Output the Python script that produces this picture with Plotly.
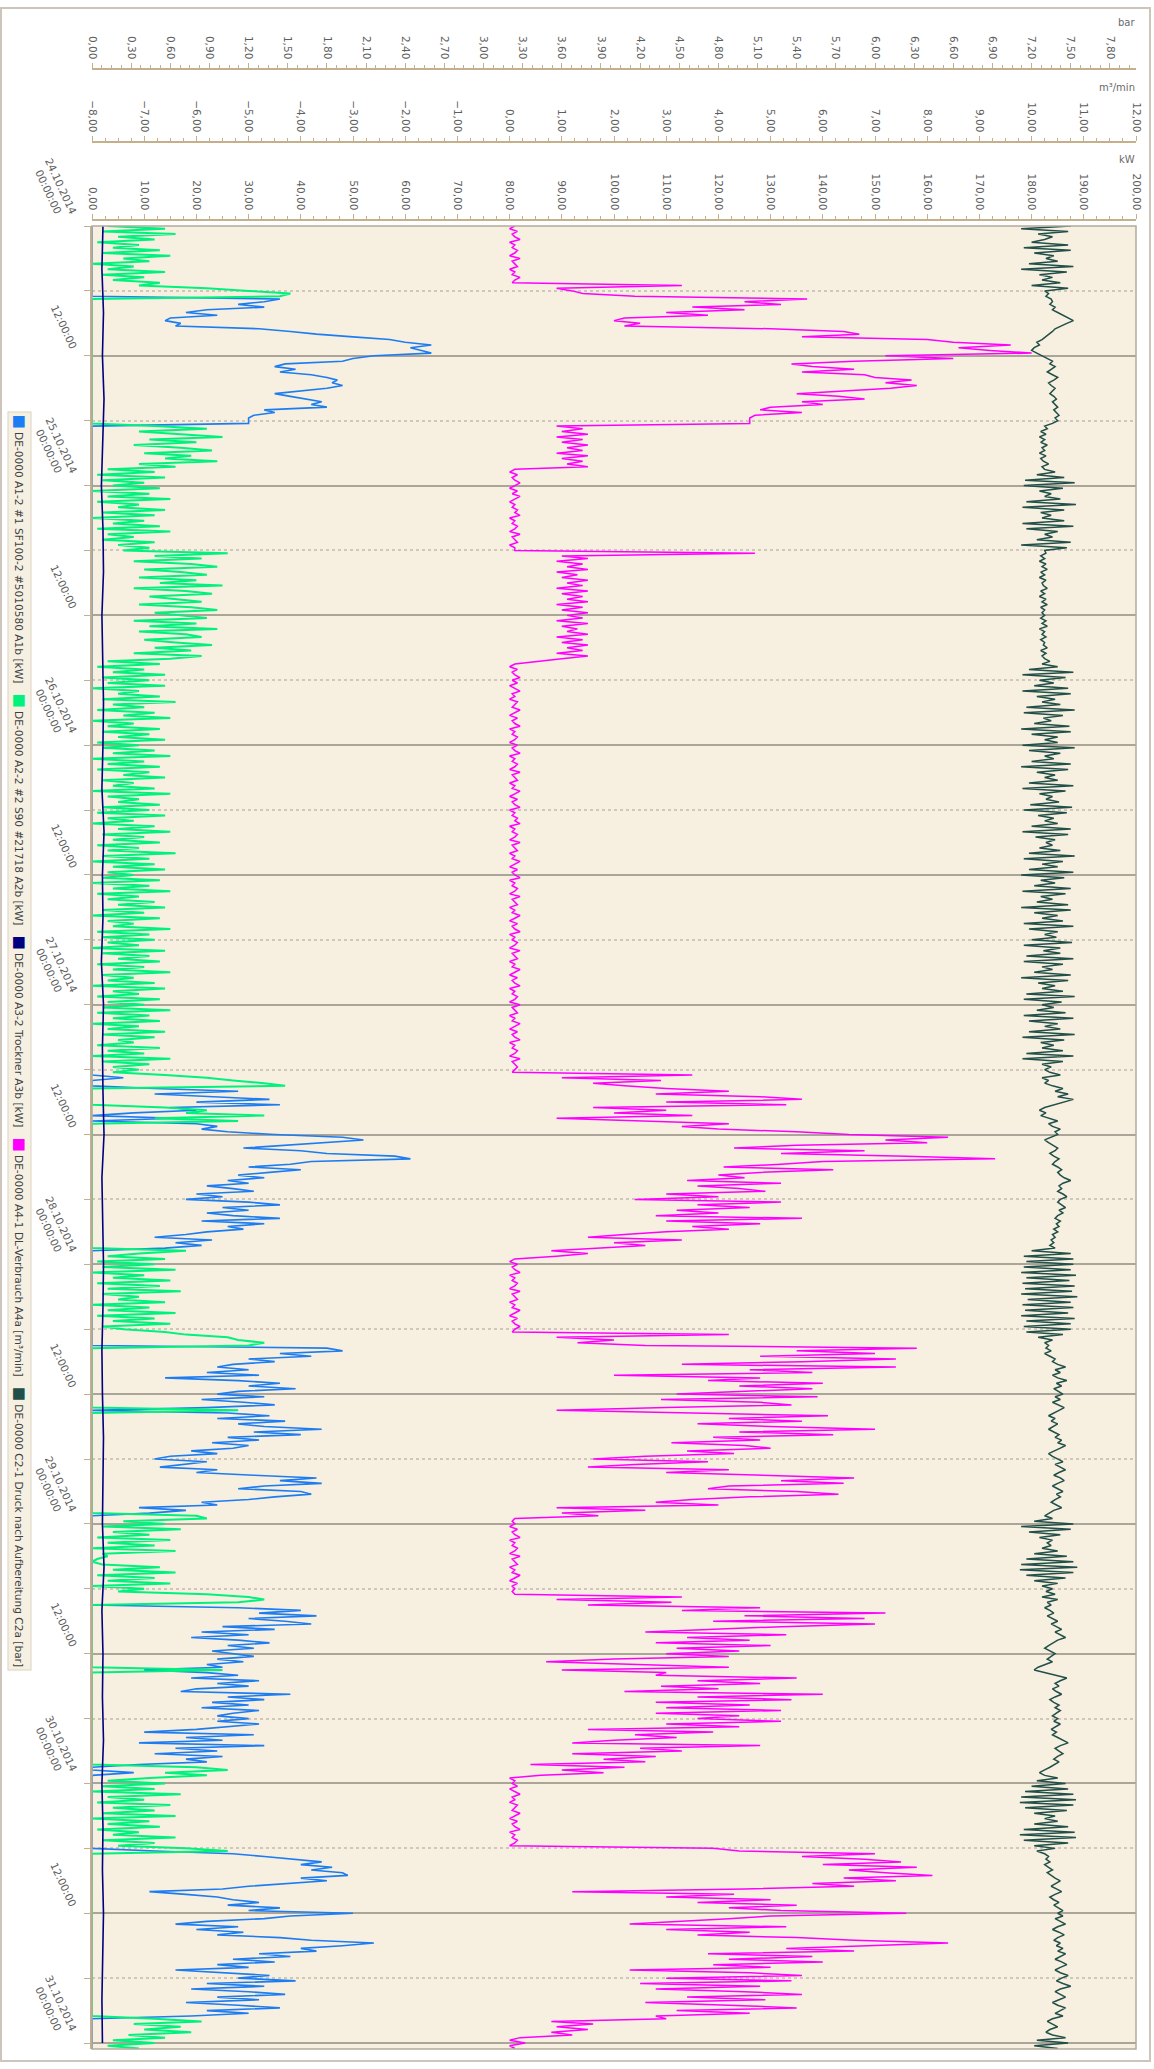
import numpy as np
import pandas as pd
import plotly.graph_objects as go

# ---------------- data (15-minute samples) ----------------
START = "2014-10-24 00:00:00"
STEP_HOURS = 0.25
END_HOURS = 168.55

# DE-0000 A2-2 #2 S90 #21718 A2b [kW]  (green)
green_kw = (
    [3,14,2,16,5,12,1,9,4,13,2,15,6,11,0,8,3,14,2,10,4,13,9,22]
    + [30,38,36,0,0,0,0,0,0,0,0,0,0,0,0,0,0,0,0,0,0,0,0,0]
    + [0,0,0,0,0,0,0,0,0,0,0,0,0,0,0,0,0,0,0,0,0,0,0,0]
    + [0,0,12,22,9,18,25,11,20,8,17,23,10,19,14,24,9,16,3,12,1,14,2,10]
    + [4,13,0,11,3,15,1,9,5,14,2,12,0,10,4,13,1,15,3,8,2,12,5,11]
    + [6,26,12,21,8,19,24,10,17,22,9,20,13,25,8,18,23,11,16,21,9,19,24,12]
    + [17,22,8,20,11,24,9,18,21,10,16,23,12,19,8,21,15,3,13,1,10,4,14,2]
    + [11,3,14,0,9,5,13,2,16,4,10,1,12,6,15,0,8,3,13,2,11,5,14,1]
    + [9,2,12,4,15,0,10,3,13,1,11,6,14,2,8,4,12,0,15,3,9,5,13,2]
    + [11,1,14,3,8,0,12,5,15,2,10,4,13,1,9,3,16,2,11,0,12,4,14,3]
    + [8,2,13,0,11,4,15,1,9,3,12,5,14,2,10,0,13,3,8,4,15,1,11,2]
    + [12,3,9,0,14,2,11,5,13,1,10,4,15,2,8,3,12,0,14,4,9,1,13,3]
    + [10,2,15,1,11,4,13,0,9,3,14,2,12,5,8,1,13,3,10,0,15,2,11,4]
    + [9,4,14,22,27,33,37,0,0,0,0,0,0,0,14,22,18,33,12,28,0,0,0,0]
    + [0,0,0,0,0,0,0,0,0,0,0,0,0,0,0,0,0,0,0,0,0,0,0,0]
    + [0,0,0,0,0,0,0,0,0,0,0,0,0,0,0,0,0,0,0,18,9,3,14,1]
    + [12,2,16,0,10,4,15,1,13,3,17,2,9,5,14,0,11,3,16,1,12,4,15,2]
    + [6,14,18,26,28,33,30,0,0,0,0,0,0,0,0,0,0,0,0,0,0,0,0,0]
    + [0,0,0,0,0,0,28,0,0,0,0,0,0,0,0,0,0,0,0,0,0,0,0,0]
    + [0,0,0,0,0,0,0,0,0,0,0,0,0,0,0,0,0,0,0,0,0,20,22,6]
    + [14,2,17,4,11,1,15,3,12,0,16,2,3,1,0,2,13,4,16,1,12,3,15,0]
    + [10,5,22,30,33,28,0,0,0,0,0,0,0,0,0,0,0,0,0,0,0,0,0,0]
    + [0,0,0,0,0,0,25,0,0,0,0,0,0,0,0,0,0,0,0,0,0,0,0,0]
    + [0,0,0,0,0,0,0,0,0,0,0,0,0,0,0,0,0,0,20,26,14,22,11,3]
    + [14,2,12,0,17,3,10,1,15,4,12,2,16,0,11,3,13,1,9,4,16,2,12,5]
    + [18,26,0,0,0,0,0,0,0,0,0,0,0,0,0,0,0,0,0,0,0,0,0,0]
    + [0,0,0,0,0,0,0,0,0,0,0,0,0,0,0,0,0,0,0,0,0,0,0,0]
    + [0,0,0,0,0,0,0,0,0,0,0,0,0,0,0,12,21,8,17,10,19,7,14,4]
    + [12,3,9]
)

# DE-0000 A1-2 #1 SF100-2 #5010580 A1b [kW]  (blue)
blue_kw = (
    [0,0,0,0,0,0,0,0,0,0,0,0,0,0,0,0,0,0,0,0,0,0,0,0]
    + [0,0,0,36,33,28,33,22,18,24,15,14,17,16,32,38,43,50,57,60,65,61,63,65]
    + [54,50,48,37,35,39,36,42,45,47,46,48,45,40,35,38,41,44,42,45,33,35,31,30]
    + [30,30,0,0,0,0,0,0,0,0,0,0,0,0,0,0,0,0,0,0,0,0,0,0]
    + [0,0,0,0,0,0,0,0,0,0,0,0,0,0,0,0,0,0,0,0,0,0,0,0]
    + [0,0,0,0,0,0,0,0,0,0,0,0,0,0,0,0,0,0,0,0,0,0,0,0]
    + [0,0,0,0,0,0,0,0,0,0,0,0,0,0,0,0,0,0,0,0,0,0,0,0]
    + [0,0,0,0,0,0,0,0,0,0,0,0,0,0,0,0,0,0,0,0,0,0,0,0]
    + [0,0,0,0,0,0,0,0,0,0,0,0,0,0,0,0,0,0,0,0,0,0,0,0]
    + [0,0,0,0,0,0,0,0,0,0,0,0,0,0,0,0,0,0,0,0,0,0,0,0]
    + [0,0,0,0,0,0,0,0,0,0,0,0,0,0,0,0,0,0,0,0,0,0,0,0]
    + [0,0,0,0,0,0,0,0,0,0,0,0,0,0,0,0,0,0,0,0,0,0,0,0]
    + [0,0,0,0,0,0,0,0,0,0,0,0,0,0,0,0,0,0,0,0,0,0,0,0]
    + [0,0,0,6,0,0,0,12,28,12,22,34,20,36,15,20,8,0,16,0,20,24,21,26]
    + [35,48,52,44,38,29,40,45,58,61,42,38,30,40,34,28,33,26,30,22,27,31,20,25]
    + [18,30,36,25,30,22,27,36,21,33,26,29,22,18,12,23,16,21,14,0,0,0,0,0]
    + [0,0,0,0,0,0,0,0,0,0,0,0,0,0,0,0,0,0,0,0,0,0,0,0]
    + [0,0,0,0,0,0,0,45,48,36,42,30,35,27,24,30,22,32,14,28,36,30,39,28]
    + [24,33,21,29,35,22,0,26,34,24,37,28,33,44,31,40,26,32,23,30,27,19,24,15]
    + [12,22,18,13,24,20,31,43,36,44,33,28,40,42,35,30,21,24,9,18,11,0,0,0]
    + [0,0,0,0,0,0,0,0,0,0,0,0,0,0,0,0,0,0,0,0,0,0,0,0]
    + [0,0,0,0,0,0,0,28,40,32,43,30,37,42,25,35,21,30,19,28,34,26,31,23]
    + [27,31,24,29,22,25,10,22,28,19,32,24,30,20,17,38,26,33,23,30,21,32,27,24]
    + [30,24,32,26,20,10,31,18,25,9,33,16,24,12,25,18,22,9,0,0,8,0,0,0]
    + [0,0,0,0,0,0,0,0,0,0,0,0,0,0,0,0,0,0,0,0,0,0,0,0]
    + [0,12,27,33,38,44,40,46,42,48,49,40,45,38,30,25,11,18,24,27,32,26,36,30]
    + [50,38,33,22,16,28,20,29,24,36,42,54,48,40,43,32,38,27,35,24,30,16,25,34]
    + [28,39,22,33,19,30,37,24,32,18,28,36,22,30,19,0,0,0,0,0,0,0,0,0]
    + [0,0,0]
)

# DE-0000 A4-1 DL-Verbrauch A4a [m³/min]  (magenta)
magenta_m3min = (
    [0.1,0.0,0.15,0.05,0.1,0.2,0.0,0.1,0.05,0.15,0.1,0.0,0.2,0.05,0.1,0.15,0.0,0.1,0.05,0.2,0.1,0.05,3.3,0.9]
    + [1.2,1.4,2.4,5.7,4.5,5.2,3.5,4.5,3.0,3.8,2.2,2.0,2.5,2.2,5.0,6.4,6.7,5.6,8.0,8.5,9.6,8.6,9.2,10.0]
    + [7.2,8.5,6.6,5.4,5.8,6.6,5.6,6.8,7.0,7.7,7.2,7.8,7.3,6.4,5.5,6.3,6.8,5.6,6.0,5.0,4.8,5.6,4.7,4.6]
    + [4.6,4.6,0.9,1.4,1.0,1.5,0.9,1.4,1.0,1.5,1.1,1.4,0.9,1.5,1.0,1.4,1.1,1.5,0.1,0.0,0.15,0.05,0.1,0.2]
    + [0.1,0.0,0.15,0.05,0.2,0.1,0.0,0.1,0.05,0.15,0.1,0.2,0.0,0.1,0.05,0.15,0.1,0.0,0.2,0.05,0.1,0.15,0.0,0.1]
    + [0.1,4.7,1.0,1.5,0.9,1.4,1.1,1.5,0.9,1.3,1.0,1.5,1.1,1.4,0.9,1.5,1.0,1.4,1.1,1.5,0.9,1.4,1.0,1.5]
    + [1.1,1.4,0.9,1.5,1.0,1.3,1.1,1.5,0.9,1.4,1.0,1.5,1.1,1.4,0.9,1.5,1.0,0.6,0.1,0.0,0.15,0.05,0.1,0.2]
    + [0.05,0.15,0.0,0.1,0.2,0.05,0.1,0.0,0.15,0.1,0.05,0.2,0.1,0.0,0.15,0.05,0.1,0.2,0.0,0.1,0.05,0.15,0.1,0.0]
    + [0.15,0.05,0.1,0.2,0.0,0.1,0.05,0.15,0.1,0.0,0.2,0.05,0.1,0.15,0.0,0.1,0.05,0.2,0.1,0.0,0.15,0.05,0.1,0.2]
    + [0.0,0.1,0.05,0.15,0.1,0.2,0.0,0.1,0.05,0.15,0.1,0.0,0.2,0.05,0.1,0.15,0.0,0.1,0.05,0.2,0.1,0.0,0.15,0.05]
    + [0.1,0.2,0.0,0.1,0.05,0.15,0.1,0.0,0.2,0.05,0.1,0.15,0.0,0.1,0.05,0.2,0.1,0.0,0.15,0.05,0.1,0.2,0.0,0.1]
    + [0.05,0.15,0.1,0.0,0.2,0.05,0.1,0.15,0.0,0.1,0.05,0.2,0.1,0.0,0.15,0.05,0.1,0.2,0.0,0.1,0.05,0.15,0.1,0.0]
    + [0.2,0.05,0.1,0.15,0.0,0.1,0.05,0.2,0.1,0.0,0.15,0.05,0.1,0.2,0.0,0.1,0.05,0.15,0.1,0.0,0.2,0.05,0.1,0.15]
    + [0.1,0.05,3.5,1.0,2.9,1.6,2.2,3.0,4.2,2.8,4.8,5.6,3.0,5.3,1.6,3.0,2.0,3.5,0.9,2.4,4.2,3.3,4.0,5.5]
    + [6.5,8.4,7.2,8.0,5.5,4.3,6.8,5.2,7.6,9.3,6.0,5.2,4.1,6.2,4.8,4.0,4.5,3.4,5.2,3.6,4.4,4.9,3.0,4.0]
    + [2.4,5.2,3.6,4.6,3.2,4.0,2.8,5.6,3.0,4.8,3.5,4.2,3.0,2.2,1.5,3.3,2.0,2.6,1.6,0.8,1.5,0.9,0.1,0.0]
    + [0.15,0.05,0.1,0.2,0.0,0.1,0.05,0.15,0.1,0.0,0.2,0.05,0.1,0.15,0.0,0.1,0.05,0.2,0.1,0.0,0.15,0.05,0.1,0.2]
    + [0.1,0.05,4.2,0.9,2.0,1.3,2.6,7.8,5.5,7.0,4.8,7.4,5.6,3.3,7.4,4.6,5.8,2.0,4.8,3.8,6.0,4.4,5.8,4.6]
    + [3.2,5.9,2.9,4.8,5.4,3.0,0.9,3.5,6.1,4.2,5.6,3.6,5.0,7.0,4.4,6.2,3.9,4.8,3.1,4.5,5.0,3.4,4.3,2.6]
    + [1.6,3.8,2.4,1.5,4.2,3.0,5.0,6.6,5.2,6.4,4.2,3.8,5.5,6.3,4.6,3.5,2.8,4.0,0.9,2.6,1.0,1.7,0.1,0.05]
    + [0.1,0.0,0.15,0.05,0.1,0.2,0.0,0.1,0.05,0.15,0.1,0.0,0.2,0.05,0.1,0.15,0.0,0.1,0.05,0.2,0.1,0.0,0.15,0.05]
    + [0.1,0.05,0.1,3.3,0.9,3.1,1.5,4.8,3.3,7.2,4.5,6.8,3.9,7.0,5.2,4.0,2.6,5.3,3.4,4.6,2.8,5.0,3.2,4.4]
    + [3.0,4.2,2.0,0.7,2.4,4.2,1.0,3.0,2.8,5.5,3.6,4.8,2.9,4.0,2.2,6.0,3.6,5.4,2.8,4.6,3.0,5.2,2.8,4.4]
    + [3.6,5.2,3.0,4.4,1.5,3.9,2.4,3.2,2.0,1.2,4.8,2.5,3.3,1.2,2.8,1.8,2.6,0.4,2.2,1.0,1.8,0.6,0.0,0.1]
    + [0.05,0.15,0.0,0.1,0.2,0.05,0.1,0.0,0.15,0.1,0.05,0.2,0.1,0.0,0.15,0.05,0.1,0.2,0.0,0.1,0.05,0.15,0.1,0.0]
    + [3.9,4.4,7.0,5.6,6.8,7.5,6.0,7.8,6.5,7.2,8.1,6.4,7.4,5.8,6.6,4.5,1.2,4.3,3.0,5.0,3.6,5.5,4.2,5.2]
    + [7.6,5.0,4.2,3.2,2.3,5.3,3.0,4.6,3.6,5.5,6.6,8.4,7.0,5.3,6.6,3.8,5.8,4.2,6.0,3.9,5.0,2.3,4.6,5.6]
    + [3.0,5.4,2.5,4.8,2.8,4.5,5.6,3.4,4.9,2.6,4.2,5.5,3.2,4.6,2.8,3.0,0.8,1.6,0.9,1.5,0.8,1.2,0.2,0.0]
    + [0.3,0.0,0.1]
)

# DE-0000 C2-1 Druck nach Aufbereitung C2a [bar]  (dark teal)
teal_bar = (
    [7.50,7.12,7.48,7.25,7.36,7.30,7.20,7.48,7.14,7.50,7.22,7.37,7.31,7.40,7.18,7.52,7.12,7.47,7.26,7.36,7.28,7.42,7.20,7.48]
    + [7.30,7.33,7.31,7.35,7.36,7.34,7.38,7.36,7.40,7.44,7.48,7.52,7.47,7.42,7.38,7.36,7.33,7.31,7.28,7.24,7.26,7.22,7.20,7.24]
    + [7.28,7.33,7.36,7.34,7.38,7.35,7.32,7.36,7.40,7.37,7.33,7.35,7.38,7.36,7.34,7.37,7.39,7.36,7.38,7.40,7.37,7.39,7.41,7.38]
    + [7.40,7.36,7.30,7.32,7.27,7.31,7.26,7.30,7.27,7.32,7.28,7.30,7.26,7.31,7.27,7.29,7.33,7.28,7.30,7.38,7.24,7.45,7.15,7.53]
    + [7.14,7.44,7.26,7.35,7.30,7.42,7.16,7.54,7.13,7.45,7.27,7.35,7.28,7.45,7.13,7.52,7.16,7.40,7.30,7.36,7.24,7.50,7.12,7.47]
    + [7.30,7.31,7.27,7.30,7.26,7.31,7.28,7.32,7.27,7.30,7.26,7.31,7.28,7.29,7.32,7.27,7.30,7.26,7.31,7.28,7.32,7.27,7.30,7.28]
    + [7.30,7.27,7.31,7.28,7.32,7.26,7.30,7.28,7.31,7.27,7.30,7.29,7.32,7.27,7.31,7.28,7.30,7.34,7.28,7.40,7.18,7.52,7.13,7.46]
    + [7.26,7.37,7.22,7.48,7.13,7.50,7.24,7.38,7.28,7.42,7.16,7.53,7.14,7.44,7.29,7.35,7.22,7.49,7.12,7.50,7.20,7.40,7.30,7.40]
    + [7.13,7.53,7.18,7.42,7.30,7.37,7.20,7.50,7.12,7.48,7.24,7.38,7.30,7.40,7.18,7.52,7.13,7.46,7.26,7.36,7.31,7.41,7.19,7.51]
    + [7.14,7.47,7.25,7.37,7.30,7.40,7.20,7.50,7.13,7.48,7.23,7.38,7.31,7.36,7.26,7.42,7.18,7.53,7.14,7.44,7.28,7.40,7.18,7.52]
    + [7.12,7.45,7.27,7.38,7.22,7.50,7.13,7.46,7.27,7.36,7.24,7.48,7.12,7.50,7.22,7.40,7.28,7.44,7.14,7.52,7.18,7.40,7.30,7.39]
    + [7.20,7.51,7.14,7.42,7.29,7.42,7.16,7.52,7.14,7.44,7.28,7.36,7.22,7.50,7.12,7.48,7.25,7.38,7.28,7.44,7.16,7.53,7.14,7.43]
    + [7.28,7.37,7.24,7.46,7.14,7.52,7.18,7.40,7.30,7.42,7.18,7.53,7.13,7.45,7.27,7.37,7.28,7.44,7.16,7.52,7.13,7.44,7.28,7.35]
    + [7.30,7.34,7.42,7.28,7.33,7.30,7.36,7.44,7.38,7.48,7.40,7.52,7.44,7.36,7.30,7.26,7.31,7.27,7.34,7.40,7.33,7.36,7.42,7.38]
    + [7.40,7.35,7.30,7.33,7.36,7.40,7.38,7.34,7.37,7.41,7.38,7.36,7.40,7.43,7.40,7.42,7.45,7.50,7.44,7.41,7.43,7.40,7.44,7.47]
    + [7.42,7.40,7.43,7.46,7.41,7.44,7.40,7.38,7.42,7.39,7.41,7.37,7.40,7.36,7.38,7.35,7.37,7.34,7.38,7.20,7.50,7.14,7.52,7.16]
    + [7.52,7.14,7.50,7.12,7.54,7.16,7.49,7.13,7.53,7.15,7.51,7.12,7.55,7.17,7.50,7.13,7.52,7.15,7.48,7.12,7.53,7.16,7.50,7.14]
    + [7.50,7.16,7.44,7.25,7.36,7.30,7.33,7.31,7.35,7.30,7.34,7.38,7.36,7.40,7.46,7.38,7.42,7.36,7.40,7.47,7.39,7.43,7.37,7.41]
    + [7.44,7.38,7.42,7.36,7.40,7.45,7.41,7.37,7.33,7.38,7.35,7.40,7.36,7.33,7.37,7.41,7.38,7.43,7.40,7.46,7.42,7.37,7.33,7.36]
    + [7.40,7.44,7.38,7.42,7.46,7.41,7.37,7.42,7.45,7.40,7.36,7.40,7.44,7.39,7.42,7.38,7.35,7.39,7.43,7.37,7.33,7.30,7.36,7.22]
    + [7.52,7.12,7.50,7.18,7.42,7.26,7.36,7.32,7.35,7.28,7.40,7.22,7.47,7.16,7.52,7.12,7.55,7.11,7.52,7.16,7.46,7.22,7.40,7.28]
    + [7.36,7.31,7.38,7.28,7.40,7.32,7.35,7.30,7.34,7.37,7.32,7.36,7.40,7.35,7.39,7.43,7.38,7.42,7.46,7.40,7.36,7.33,7.30,7.34]
    + [7.38,7.35,7.32,7.36,7.30,7.25,7.22,7.30,7.40,7.47,7.42,7.38,7.41,7.36,7.39,7.43,7.38,7.34,7.37,7.41,7.38,7.42,7.39,7.36]
    + [7.40,7.37,7.42,7.38,7.35,7.39,7.36,7.40,7.44,7.48,7.42,7.38,7.41,7.44,7.40,7.37,7.41,7.38,7.34,7.30,7.26,7.30,7.40,7.24]
    + [7.46,7.20,7.48,7.15,7.52,7.12,7.54,7.11,7.52,7.15,7.47,7.22,7.38,7.30,7.40,7.22,7.48,7.14,7.53,7.11,7.54,7.14,7.48,7.22]
    + [7.38,7.24,7.30,7.33,7.31,7.34,7.30,7.33,7.36,7.32,7.35,7.38,7.42,7.38,7.35,7.39,7.43,7.38,7.34,7.37,7.41,7.37,7.40,7.44]
    + [7.40,7.44,7.38,7.42,7.46,7.40,7.36,7.41,7.45,7.40,7.37,7.42,7.39,7.44,7.40,7.46,7.42,7.38,7.43,7.47,7.42,7.38,7.42,7.48]
    + [7.43,7.39,7.44,7.50,7.42,7.38,7.42,7.46,7.41,7.36,7.40,7.46,7.42,7.38,7.44,7.36,7.32,7.36,7.40,7.34,7.31,7.36,7.46,7.24]
    + [7.48,7.22,7.40]
)

# DE-0000 A3-2 Trockner A3b [kW]  (navy) - 4-hour samples
NAVY_STEP_HOURS = 4
navy_kw = [2.1,1.9,2.2,2.0,2.3,2.0,1.8,2.1,2.2,1.9,2.0,2.2,2.1,1.9,2.3,2.0,2.1,1.8,2.2,2.0,2.1,2.3,
           1.9,2.0,2.2,2.1,1.9,2.0,2.2,2.1,2.0,2.3,1.9,2.1,2.0,2.2,1.9,2.1,2.0,2.2,2.1,1.9,2.0]

SERIES_NAMES = [
    "DE-0000 A1-2 #1 SF100-2 #5010580 A1b [kW]",
    "DE-0000 A2-2 #2 S90 #21718 A2b [kW]",
    "DE-0000 A3-2 Trockner A3b [kW]",
    "DE-0000 A4-1 DL-Verbrauch A4a [m³/min]",
    "DE-0000 C2-1 Druck nach Aufbereitung C2a [bar]",
]
SERIES_COLORS = ["#1c7cf2", "#00f27c", "#000080", "#ff00ff", "#214f49"]

TIME_TICK_HOURS = [0, 12, 24, 36, 48, 60, 72, 84, 96, 108, 120, 132, 144, 156, 168]
TIME_TICK_TEXT = [
    "24.10.2014<br>00:00:00", "12:00:00", "25.10.2014<br>00:00:00", "12:00:00",
    "26.10.2014<br>00:00:00", "12:00:00", "27.10.2014<br>00:00:00", "12:00:00",
    "28.10.2014<br>00:00:00", "12:00:00", "29.10.2014<br>00:00:00", "12:00:00",
    "30.10.2014<br>00:00:00", "12:00:00", "31.10.2014<br>00:00:00",
]
UNIT_LABELS = ["bar", "m³/min", "kW"]

# ---------------- checks ----------------
lens = {k: len(v) for k, v in dict(green=green_kw, blue=blue_kw, magenta=magenta_m3min, teal=teal_bar).items()}
if len(set(lens.values())) != 1:
    raise SystemExit("length mismatch: %s" % lens)

# ---------------- layout geometry (pixels) ----------------
W, H = 1154, 2069
ML, MR, MT, MB = 92, 18, 10, 20
PW, PH = W - ML - MR, H - MT - MB


def px_x(x):
    return (x - ML) / PW


def px_y(y):
    return (H - MB - y) / PH


PLOT_TOP = 226
AXIS_Y = {"kW": 220, "m3": 142, "bar": 69}
TAN = "#c4b08a"
TICKFONT = dict(family="DejaVu Sans", size=10.5, color="#5e5e5e")

base = pd.Timestamp(START)
n = len(green_kw)
times = base + pd.to_timedelta(np.arange(n) * STEP_HOURS, unit="h")
navy_times = base + pd.to_timedelta(np.arange(len(navy_kw)) * NAVY_STEP_HOURS, unit="h")
t_end = base + pd.Timedelta(hours=END_HOURS)

fig = go.Figure()


def add(xv, yv, color, axis, width=1.0):
    fig.add_trace(go.Scatter(x=xv, y=yv, mode="lines", xaxis=axis, yaxis="y",
                             line=dict(color=color, width=width, shape="linear"),
                             showlegend=False, hoverinfo="skip"))


add(blue_kw, times, SERIES_COLORS[0], "x", width=1.6)
add(green_kw, times, SERIES_COLORS[1], "x", width=2.0)
add(navy_kw, navy_times, SERIES_COLORS[2], "x", width=1.6)
add(magenta_m3min, times, SERIES_COLORS[3], "x2", width=1.5)
add(teal_bar, times, SERIES_COLORS[4], "x3", width=1.5)

top_axis_common = dict(
    anchor="free", side="top", showgrid=False, zeroline=False, automargin=False,
    tickformat=".2f", tickangle=90, ticks="outside", ticklen=5, tickwidth=1,
    tickcolor=TAN, showline=True, linecolor=TAN, linewidth=2, tickfont=TICKFONT,
    fixedrange=True,
)

H12 = 12 * 3600 * 1000
H6 = 6 * 3600 * 1000

fig.update_layout(
    width=W, height=H,
    margin=dict(l=ML, r=MR, t=MT, b=MB, autoexpand=False),
    paper_bgcolor="white",
    plot_bgcolor="#f7efdf",
    separators=",.",
    showlegend=False,
    xaxis=dict(range=[0, 200], position=px_y(AXIS_Y["kW"]), tickmode="linear", tick0=0, dtick=10,
               minor=dict(dtick=2.5, ticks="outside", ticklen=3, tickcolor=TAN, showgrid=False),
               **top_axis_common),
    xaxis2=dict(range=[-8, 12], overlaying="x", position=px_y(AXIS_Y["m3"]), tickmode="linear",
                tick0=-8, dtick=1,
                minor=dict(dtick=0.25, ticks="outside", ticklen=3, tickcolor=TAN, showgrid=False),
                **top_axis_common),
    xaxis3=dict(range=[0, 8], overlaying="x", position=px_y(AXIS_Y["bar"]), tickmode="linear",
                tick0=0, dtick=0.3,
                minor=dict(dtick=0.075, ticks="outside", ticklen=3, tickcolor=TAN, showgrid=False),
                **top_axis_common),
    xaxis4=dict(range=[0, 200], overlaying="x", anchor="y", side="bottom", tickmode="linear",
                tick0=0, dtick=6, showgrid=True, gridcolor="#ddcfb3", gridwidth=1,
                showticklabels=False, ticks="", showline=False, zeroline=False, automargin=False),
    yaxis=dict(type="date", domain=[0, px_y(PLOT_TOP)], range=[t_end, base], anchor="x",
               side="left", tick0=base, dtick=H12, showticklabels=False,
               ticks="outside", ticklen=6, tickcolor=TAN,
               showgrid=True, gridcolor="#aba499", gridwidth=2,
               showline=True, linecolor=TAN, linewidth=2, zeroline=False, automargin=False,
               minor=dict(dtick=H6, ticks="outside", ticklen=6, tickcolor=TAN,
                          showgrid=True, gridcolor="#cfc8ba", griddash="dot", gridwidth=1.5)),
)

shapes = []
annotations = []

# plot frame
shapes.append(dict(type="rect", xref="paper", yref="paper", x0=0, x1=1, y0=0, y1=px_y(PLOT_TOP),
                   line=dict(color="#b3ab9f", width=1.5), fillcolor="rgba(0,0,0,0)", layer="above"))
# outer border of the chart
shapes.append(dict(type="rect", xref="paper", yref="paper", x0=px_x(1), x1=px_x(1150),
                   y0=px_y(2061), y1=px_y(8), line=dict(color="#cdc5bc", width=2),
                   fillcolor="rgba(0,0,0,0)", layer="above"))

# unit labels
for txt, yp in zip(UNIT_LABELS, [23, 88, 160]):
    annotations.append(dict(text=txt, xref="paper", yref="paper", x=px_x(1137), y=px_y(yp),
                            xanchor="right", yanchor="middle", showarrow=False,
                            font=dict(family="DejaVu Sans", size=10, color="#6a6a6a")))

# time tick labels
for h, txt in zip(TIME_TICK_HOURS, TIME_TICK_TEXT):
    yv = (base + pd.Timedelta(hours=h)).strftime("%Y-%m-%d %H:%M:%S")
    annotations.append(dict(text=txt, xref="paper", yref="y", x=px_x(82), y=yv,
                            xanchor="right", yanchor="bottom", textangle=65, showarrow=False,
                            align="center", yshift=2,
                            font=dict(family="DejaVu Sans", size=10.5, color="#5e5e5e")))

# legend: one rotated annotation, items flow like a real legend
NBSP = "\u00a0"
parts = []
for name, color in zip(SERIES_NAMES, SERIES_COLORS):
    parts.append('<span style="color:%s;font-size:15px">\u25a0</span>%s%s' % (color, NBSP, name))
legend_text = (NBSP * 3).join(parts)
annotations.append(dict(text=legend_text, xref="paper", yref="paper", x=px_x(20), y=px_y(411),
                        xanchor="center", yanchor="top", textangle=90, showarrow=False,
                        bgcolor="#f6f0e3", bordercolor="#dcd2bf", borderwidth=1, borderpad=2,
                        font=dict(family="DejaVu Sans", size=10.6, color="#404040")))

fig.update_layout(shapes=shapes, annotations=annotations)
fig.write_html("out.html")
